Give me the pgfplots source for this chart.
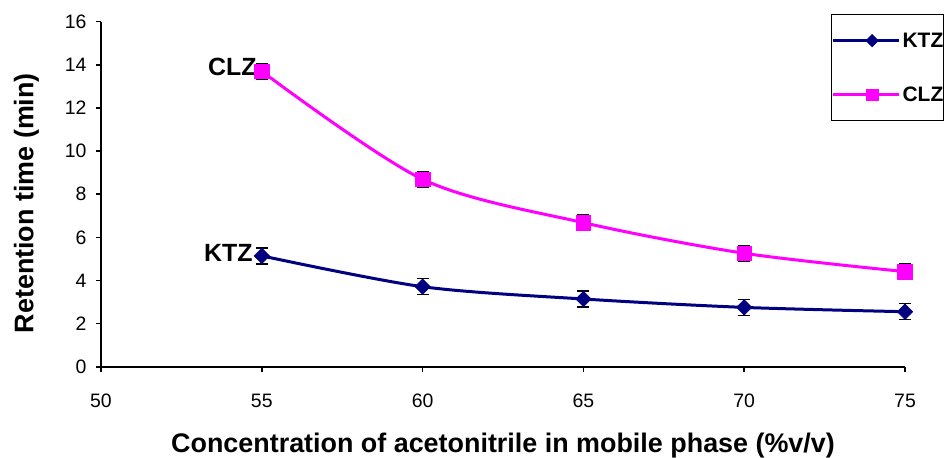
\documentclass[border=0pt]{standalone}
\usepackage{fontspec}
\setmainfont{Liberation Sans}
\usepackage{pgfplots}
\pgfplotsset{compat=1.18}
\definecolor{ktz}{RGB}{0,0,128}
\definecolor{clz}{RGB}{255,0,255}
\begin{document}
\begin{tikzpicture}
\begin{axis}[
  at={(0,0)}, anchor=origin,
  scale only axis, width=804bp, height=345bp,
  xmin=50, xmax=75, ymin=0, ymax=16,
  xtick={50,55,...,75}, ytick={0,2,...,16},
  axis x line=bottom, axis y line=left,
  axis line style={-, line width=2.2bp, black},
  tick style={line width=1.6bp, black},
  tick align=outside, major tick length=5bp,
  /pgf/number format/assume math mode=true,
  tick label style={font=\fontsize{19.5}{23}\selectfont},
  xticklabel style={yshift=-19bp},
  yticklabel style={xshift=-6bp},
  xlabel={\textbf{Concentration of acetonitrile in mobile phase (\%v/v)}},
  ylabel={\textbf{Retention time (min)}},
  label style={font=\fontsize{27}{32}\selectfont},
  xlabel style={at={(rel axis cs:0.5,0)}, anchor=base, yshift=-85.5bp},
  ylabel style={at={(rel axis cs:0,0.5)}, anchor=base, yshift=67.7bp, xshift=-9bp},
  legend style={at={(0.908,1.022)}, anchor=north west, draw=black, line width=1.2bp,
    font=\bfseries\fontsize{21}{25}\selectfont, inner xsep=0pt, inner ysep=18bp,
    nodes={inner sep=0pt}, column sep=2bp,
    row sep=38bp, legend cell align=left},
  legend image code/.code={%
    \path (0bp,0bp) -- (12bp,0bp);
    \draw[#1, every mark/.append style={scale=0.8}] (12bp,0bp) -- (66bp,0bp);
    \draw[#1, every mark/.append style={scale=0.8}] plot coordinates {(39bp,0bp)};},
  clip=false,
]
\addplot[color=ktz, line width=3bp, smooth, mark=square*, mark size=5.5bp,
  mark options={rotate=45, fill=ktz, draw=ktz, line width=0.5bp},
  error bars/.cd, y dir=both, y explicit,
  error bar style={black, line width=1.5bp},
  error mark options={rotate=90, mark size=6bp, black, line width=1.5bp}]
  coordinates {(55,5.14) +- (0,0.37) (60,3.71) +- (0,0.37) (65,3.14) +- (0,0.37) (70,2.75) +- (0,0.37) (75,2.55) +- (0,0.37)};
\addlegendentry{KTZ\hspace{3bp}}
\addplot[color=clz, line width=3bp, smooth, mark=square*, mark size=7.3bp,
  mark options={fill=clz, draw=clz, line width=0.5bp},
  error bars/.cd, y dir=both, y explicit,
  error bar style={black, line width=1.5bp},
  error mark options={rotate=90, mark size=6bp, black, line width=1.5bp}]
  coordinates {(55,13.7) +- (0,0.37) (60,8.69) +- (0,0.37) (65,6.68) +- (0,0.37) (70,5.26) +- (0,0.37) (75,4.41) +- (0,0.37)};
\addlegendentry{CLZ\hspace{3bp}}
\node[anchor=base east, font=\bfseries\fontsize{25}{30}\selectfont, inner sep=0pt, xshift=-5bp, yshift=-4bp] at (axis cs:55,13.7) {CLZ};
\node[anchor=base east, font=\bfseries\fontsize{25}{30}\selectfont, inner sep=0pt, xshift=-9bp, yshift=-6bp] at (axis cs:55,5.14) {KTZ};
\end{axis}
\pgfresetboundingbox
\path (-101bp,-91.3bp) rectangle (848bp,366.7bp);
\end{tikzpicture}
\end{document}
